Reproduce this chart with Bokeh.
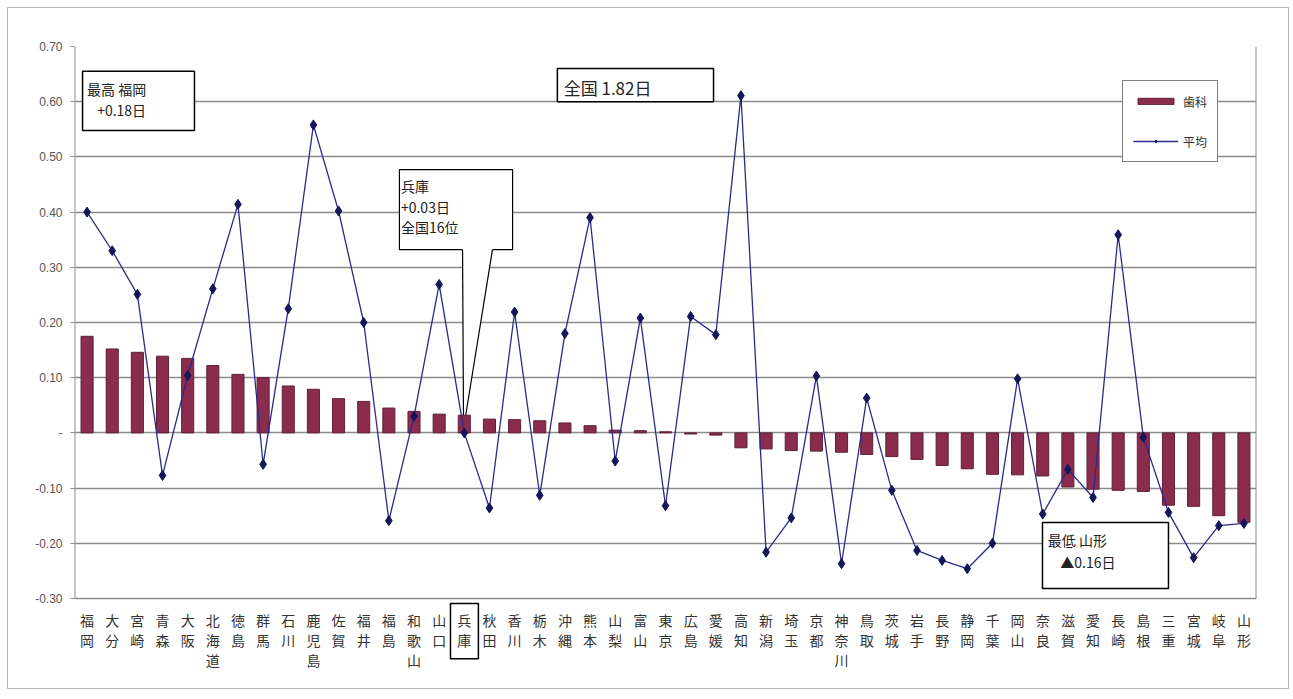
from bokeh.plotting import figure
from bokeh.models import (FactorRange, Range1d, FixedTicker, Legend, LegendItem, Label)
from bokeh.core.properties import value
from bokeh.embed import file_html
from bokeh.resources import INLINE

prefs = ["福岡", "大分", "宮崎", "青森", "大阪", "北海道", "徳島", "群馬", "石川", "鹿児島",
         "佐賀", "福井", "福島", "和歌山", "山口", "兵庫", "秋田", "香川", "栃木", "沖縄",
         "熊本", "山梨", "富山", "東京", "広島", "愛媛", "高知", "新潟", "埼玉", "京都",
         "神奈川", "鳥取", "茨城", "岩手", "長野", "静岡", "千葉", "岡山", "奈良", "滋賀",
         "愛知", "長崎", "島根", "三重", "宮城", "岐阜", "山形"]

dental = [0.175, 0.152, 0.146, 0.139, 0.135, 0.122, 0.106, 0.100, 0.085, 0.079,
          0.062, 0.057, 0.045, 0.039, 0.034, 0.032, 0.025, 0.024, 0.022, 0.018,
          0.013, 0.005, 0.004, 0.002, -0.002, -0.004, -0.027, -0.029, -0.032, -0.033,
          -0.035, -0.039, -0.043, -0.048, -0.059, -0.065, -0.075, -0.076, -0.078, -0.098,
          -0.102, -0.104, -0.106, -0.131, -0.133, -0.150, -0.162]

average = [0.400, 0.330, 0.251, -0.077, 0.104, 0.261, 0.414, -0.057, 0.225, 0.558,
           0.402, 0.200, -0.159, 0.030, 0.269, 0.000, -0.136, 0.219, -0.113, 0.180,
           0.390, -0.051, 0.208, -0.132, 0.211, 0.178, 0.611, -0.216, -0.154, 0.103,
           -0.237, 0.063, -0.104, -0.213, -0.231, -0.246, -0.200, 0.098, -0.147, -0.066,
           -0.117, 0.359, -0.008, -0.144, -0.226, -0.168, -0.164]

y_ticks = [-0.3, -0.2, -0.1, 0.0, 0.1, 0.2, 0.3, 0.4, 0.5, 0.6, 0.7]
y_tick_labels = ["-0.30", "-0.20", "-0.10", "-", "0.10", "0.20", "0.30", "0.40",
                 "0.50", "0.60", "0.70"]

series_names = ["歯科", "平均"]
highlight = "兵庫"

JP = "Noto Sans CJK JP"
Y_MIN, Y_MAX = -0.30, 0.70
Y_LABEL_AREA = 0.14855   # extra room below the value axis for category labels
GRID = "#8c8c8c"

p = figure(width=1282, height=682, x_range=FactorRange(*prefs, range_padding=0),
           y_range=Range1d(Y_MIN - Y_LABEL_AREA, Y_MAX), output_backend="svg",
           toolbar_location=None, x_axis_location=None,
           min_border_left=66, min_border_right=34, min_border_top=38, min_border_bottom=10)
p.styles = {"border": "1px solid #b4b4b4", "margin-left": "7px", "margin-top": "7px"}
p.background_fill_color = "white"
p.border_fill_color = "white"
p.outline_line_color = None

p.xgrid.grid_line_color = None
p.ygrid.grid_line_color = GRID
p.ygrid.grid_line_width = 1.3

p.yaxis.ticker = FixedTicker(ticks=y_ticks)
p.yaxis.major_label_overrides = {t: l for t, l in zip(y_ticks, y_tick_labels)}
p.yaxis.major_label_text_font = "Liberation Sans"
p.yaxis.major_label_text_font_size = "12px"
p.yaxis.major_label_text_color = "#555555"
p.yaxis.axis_line_color = None
p.yaxis.major_tick_line_color = GRID
p.yaxis.major_tick_in = 0
p.yaxis.major_tick_out = 4
p.yaxis.minor_tick_line_color = None
p.yaxis.major_label_standoff = 8

n = len(prefs)
# plot-area frame: value axis line on the left, border on the right
p.segment(x0=[0, n], y0=[Y_MIN, Y_MIN], x1=[0, n], y1=[Y_MAX, Y_MAX],
          line_color=GRID, line_width=2)

# category labels, one character per line, under the plot area
p.text(x=prefs, y=[Y_MIN - 0.0215] * n, text=["\n".join(s) for s in prefs],
       text_font=value(JP), text_font_size="14px", text_color="#333333",
       text_align="center", text_baseline="top", text_line_height=0.98)
hi = prefs.index(highlight)
p.quad(left=[hi - 0.05], right=[hi + 1.06], top=[Y_MIN - 0.009], bottom=[Y_MIN - 0.109],
       fill_color=None, line_color="black", line_width=1.5)

# annotation boxes (glyph level so lines/bars remain on top)
p.quad(left=[12.92], right=[17.42], top=[0.477], bottom=[0.332],
       fill_color="white", line_color="black", line_width=1.2)
p.patch(x=[15.43, 16.62, 15.47], y=[0.333, 0.333, 0.008], fill_color="white",
        line_color=None)
p.multi_line(xs=[[15.43, 15.47], [16.62, 15.47]], ys=[[0.332, 0.008], [0.332, 0.008]],
             line_color="black", line_width=1.2)
p.quad(left=[19.2], right=[25.41], top=[0.66], bottom=[0.60],
       fill_color="white", line_color="black", line_width=1.5)
p.quad(left=[0.32], right=[4.77], top=[0.655], bottom=[0.548],
       fill_color="white", line_color="black", line_width=1.5)
p.quad(left=[38.49], right=[43.5], top=[-0.1625], bottom=[-0.282],
       fill_color="white", line_color="black", line_width=1.5)

bars = p.vbar(x=prefs, top=dental, width=0.48, fill_color="#8a2c4e",
              line_color="#5e2038", line_width=1)
ln = p.line(x=prefs, y=average, line_color="#2a2a8c", line_width=1.3)
mk = p.scatter(x=prefs, y=average, marker="diamond", size=10, fill_color="#15155a",
               line_color="#15155a")

legend = Legend(items=[LegendItem(label=series_names[0], renderers=[bars]),
                       LegendItem(label=series_names[1], renderers=[ln, mk])],
                location=(1048, 518), orientation="vertical")
legend.glyph_width = 45
legend.glyph_height = 8
legend.label_height = 20
legend.spacing = 20
legend.padding = 10
legend.margin = 0
legend.label_text_font = JP
legend.label_text_font_size = "12px"
legend.label_text_color = "#333333"
legend.border_line_color = "black"
legend.border_line_width = 1.2
legend.background_fill_alpha = 1
p.add_layout(legend)

notes = [
    (0.5, 0.641, "最高 福岡", "14px"),
    (0.9, 0.603, "+0.18日", "14px"),
    (19.45, 0.648, "全国 1.82日", "17px"),
    (12.98, 0.465, "兵庫", "14px"),
    (12.98, 0.428, "+0.03日", "14px"),
    (12.98, 0.391, "全国16位", "14px"),
    (38.7, -0.176, "最低 山形", "14px"),
    (39.2, -0.215, "▲0.16日", "14px"),
]
for x, y, t, fs in notes:
    p.add_layout(Label(x=x, y=y, text=t, text_font=JP, text_font_size=fs,
                       text_color="#222222", text_baseline="top"))

open("out.html", "w").write(file_html(p, INLINE))
